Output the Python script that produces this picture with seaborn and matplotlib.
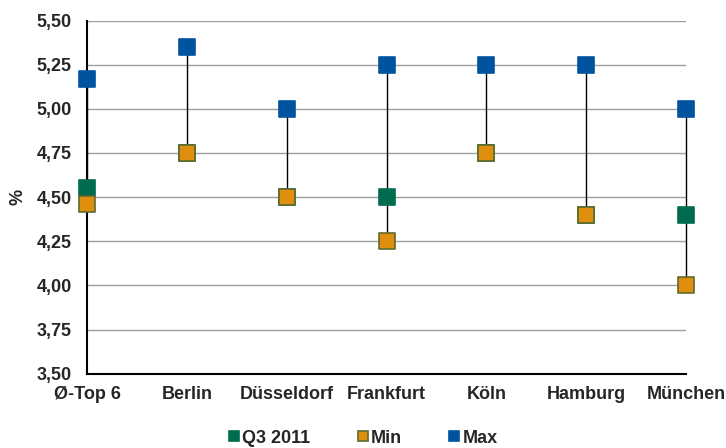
import matplotlib
matplotlib.use("Agg")
import matplotlib.pyplot as plt
from matplotlib.ticker import FuncFormatter, FixedLocator
from matplotlib.lines import Line2D
import seaborn as sns
import pandas as pd

# Initial yields (%) per location
cities = ["Ø-Top 6", "Berlin", "Düsseldorf", "Frankfurt", "Köln", "Hamburg", "München"]
q3_2011 = [4.55, 4.75, 4.50, 4.50, 4.75, 4.40, 4.40]
y_min = [4.46, 4.75, 4.50, 4.25, 4.75, 4.40, 4.00]
y_max = [5.17, 5.35, 5.00, 5.25, 5.25, 5.25, 5.00]
series_names = ["Q3 2011", "Min", "Max"]
y_ticks = [3.50, 3.75, 4.00, 4.25, 4.50, 4.75, 5.00, 5.25, 5.50]

colors = {"Q3 2011": "#006B4E", "Min": "#E08E0E", "Max": "#00539F"}
edges = {"Q3 2011": "#006B4E", "Min": "#5E6B2E", "Max": "#00539F"}

df = pd.concat([
    pd.DataFrame({"Ort": cities, "Wert": vals, "Reihe": name})
    for name, vals in zip(series_names, [q3_2011, y_min, y_max])
], ignore_index=True)

sns.set_style("white")
plt.rcParams["font.family"] = ["Liberation Sans", "DejaVu Sans"]
plt.rcParams["font.weight"] = "bold"
FS = 13

fig = plt.figure(figsize=(7.26, 4.48), dpi=100)
ax = fig.add_axes([0.12, 0.166, 0.825, 0.788])

# high-low lines between minimum and maximum
pos = list(range(len(cities)))
ax.vlines(pos, y_min, y_max, color="black", linewidth=1.0, zorder=2, clip_on=False)

for name in series_names:
    sub = df[df["Reihe"] == name]
    sns.scatterplot(data=sub, x="Ort", y="Wert", marker="s", s=118,
                    color=colors[name], edgecolor=edges[name], linewidth=1.2,
                    ax=ax, zorder=3, clip_on=False, legend=False)

ax.set_xlim(0, len(cities) - 1)
ax.set_ylim(3.5, 5.5)
ax.yaxis.set_major_locator(FixedLocator(y_ticks))
ax.yaxis.set_major_formatter(FuncFormatter(lambda v, p: f"{v:.2f}".replace(".", ",")))
ax.set_xticks(pos)
ax.set_xticklabels(cities)
ax.tick_params(axis="both", labelsize=FS, length=0)
ax.tick_params(axis="y", pad=11)
ax.tick_params(axis="x", pad=9)
for lab in ax.get_xticklabels() + ax.get_yticklabels():
    lab.set_fontweight("bold")

ax.grid(axis="y", color="#9aa0a0", linewidth=1.0)
ax.set_axisbelow(True)
for side in ["top", "right"]:
    ax.spines[side].set_visible(False)
for side in ["left", "bottom"]:
    ax.spines[side].set_color("black")
    ax.spines[side].set_linewidth(1.5)
    ax.spines[side].set_zorder(2.5)

ax.set_xlabel("")
ax.set_ylabel("%", fontsize=FS, fontweight="bold", labelpad=7)

handles = [Line2D([], [], linestyle="none", marker="s", markersize=7.5,
                  markerfacecolor=colors[n], markeredgecolor=edges[n],
                  markeredgewidth=1.2) for n in series_names]
fig.legend(handles, series_names, loc="center", bbox_to_anchor=(0.5, 0.022),
           ncol=3, frameon=False, handlelength=0.6, handletextpad=0.15,
           columnspacing=2.6, prop={"size": FS, "weight": "bold"})

fig.savefig("out.png", dpi=100)
